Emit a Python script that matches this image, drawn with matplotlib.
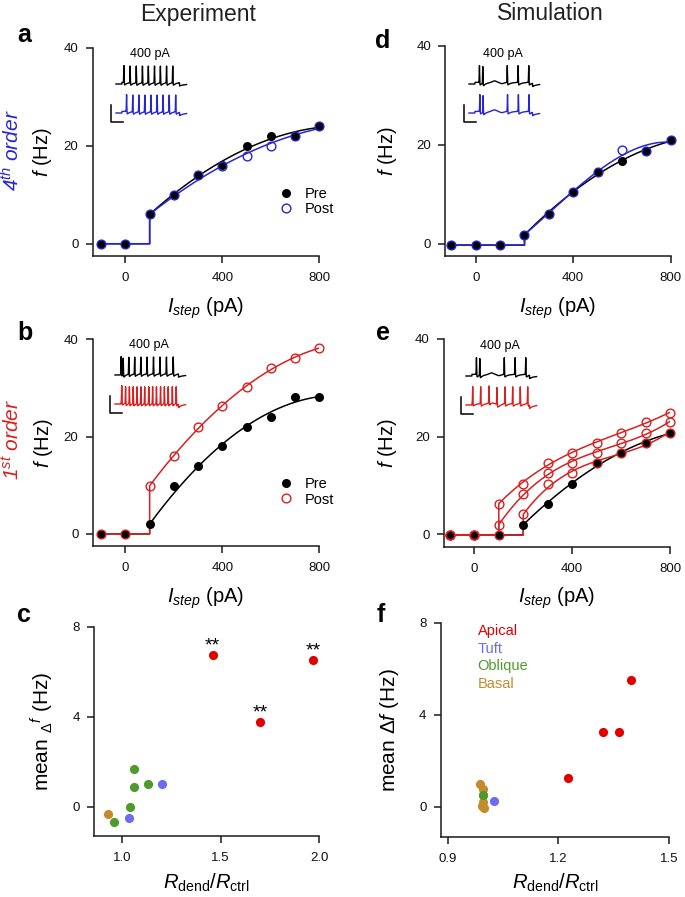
import numpy as np
import matplotlib
matplotlib.use('Agg')
import matplotlib.pyplot as plt
from matplotlib.lines import Line2D

plt.rcParams['font.family'] = ['Liberation Sans', 'DejaVu Sans']
plt.rcParams['mathtext.fontset'] = 'custom'
plt.rcParams['mathtext.rm'] = 'Liberation Sans'
plt.rcParams['mathtext.it'] = 'Liberation Sans:italic'
plt.rcParams['mathtext.bf'] = 'Liberation Sans:bold'

W, H = 685, 897

# ---------------- data ----------------
I_STEP = [-100, 0, 100, 200, 300, 400, 500, 600, 700, 800]

a_pre = [0, 0, 6, 10, 14, 16.1, 20, 22, 22, 24]
a_post = [0, 0, 6, 10, 14, 15.9, 18, 20, 22, 24]

b_pre = [0, 0, 2, 9.9, 14, 18.1, 22, 24, 28.1, 28.1]
b_post = [0, 0, 9.9, 16, 22, 26.2, 30.1, 34.2, 36.2, 38.2]

d_pre = [-0.3, -0.3, -0.3, 1.8, 6.1, 10.4, 14.6, 16.7, 18.8, 20.9]
d_post = [-0.3, -0.3, -0.3, 1.8, 6.1, 10.4, 14.6, 18.9, 18.8, 20.9]

e_pre = [-0.1, -0.1, -0.1, 2.0, 6.2, 10.4, 14.6, 16.6, 18.7, 20.8]
e_post_1 = [-0.1, -0.1, 6.3, 10.4, 14.6, 16.7, 18.7, 20.8, 22.9, 24.9]
e_post_2 = [-0.1, -0.1, 2.0, 8.3, 12.5, 14.6, 16.6, 18.7, 20.8, 22.9]
e_post_3 = [-0.1, -0.1, -0.1, 4.1, 10.4, 12.5, 14.6, 16.6, 18.7, 20.8]

# panel c (experiment)
c_ratio = {
    'Basal': [0.931],
    'Oblique': [0.961, 1.042, 1.059, 1.059, 1.133],
    'Tuft': [1.035, 1.205],
    'Apical': [1.46, 1.70, 1.97],
}
c_delta = {
    'Basal': [-0.34],
    'Oblique': [-0.68, 0.0, 0.87, 1.66, 1.0],
    'Tuft': [-0.50, 0.99],
    'Apical': [6.74, 3.75, 6.5],
}
c_signif = ['**', '**', '**']

# panel f (simulation)
f_ratio = {
    'Basal': [0.988, 0.995, 0.997, 0.996, 0.992, 0.999],
    'Oblique': [0.995],
    'Tuft': [1.025],
    'Apical': [1.225, 1.320, 1.364, 1.397],
}
f_delta = {
    'Basal': [1.0, 0.78, 0.5, 0.2, 0.03, -0.05],
    'Oblique': [0.5],
    'Tuft': [0.24],
    'Apical': [1.25, 3.25, 3.25, 5.5],
}
legend_order = ['Apical', 'Tuft', 'Oblique', 'Basal']

# inset spike times (ms) at 400 pA
a_sp_pre = [135, 240, 345, 450, 550, 655, 755, 860, 965]
a_sp_post = [180, 285, 390, 490, 595, 700, 800, 905, 1015]
b_sp_pre = [105, 140, 235, 335, 440, 545, 655, 765, 875, 990]
b_sp_post = [115, 180, 245, 310, 375, 440, 505, 575, 640, 705, 775, 840, 905, 975, 1040]
d_sp_pre = [178, 235, 651, 835, 1016]
d_sp_post = [185, 240, 655, 840, 1020]
e_sp_pre = [178, 235, 651, 835, 1016]
e_sp_post = [114, 250, 391, 527, 663, 794, 923, 1049]
sim_sub = [430]

# ---------------- style ----------------
BLUE = '#2626d2'
RED = '#d82020'
CAT_COLORS = {'Apical': '#e00000', 'Tuft': '#6c6cf0', 'Oblique': '#4e9a2c', 'Basal': '#c48b2e'}
SPINE = '#1a1a1a'
TICK_FS = 9.5
LABEL_FS = 14.5


def rect(l, r, t, b):
    return [l / W, 1 - b / H, (r - l) / W, (b - t) / H]


fig = plt.figure(figsize=(W / 100, H / 100), dpi=100)


def style_axes(ax):
    for s in ['top', 'right']:
        ax.spines[s].set_visible(False)
    for s in ['left', 'bottom']:
        ax.spines[s].set_linewidth(1.1)
        ax.spines[s].set_color(SPINE)
    ax.tick_params(axis='both', direction='out', length=5.3, width=1.1, color=SPINE,
                   labelsize=TICK_FS, labelcolor='#111111')
    ax.tick_params(axis='x', pad=6.5)
    ax.tick_params(axis='y', pad=5.0)


def fit_line(x, y, deg):
    x = np.asarray(x, float)
    y = np.asarray(y, float)
    on = y > 0.5
    xs, ys = x[on], y[on]
    w = np.ones_like(xs)
    w[0] = 8
    p = np.polyfit(xs, ys, deg, w=w)
    xf = np.linspace(xs[0], xs[-1], 300)
    yf = np.polyval(p, xf)
    base = y[0]
    return np.concatenate([[x[0], xs[0]], xf]), np.concatenate([[base, base], yf])


def fi_panel(ax, pre, posts, color, deg, xmin, xlabel_y, ylabel_x):
    style_axes(ax)
    xl, yl = fit_line(I_STEP, pre, deg)
    ax.plot(xl, yl, color='black', lw=1.1, zorder=2)
    for post in posts:
        xl, yl = fit_line(I_STEP, post, deg)
        ax.plot(xl, yl, color=color, lw=1.1, zorder=3)
    ax.plot(I_STEP, pre, 'o', color='black', ms=6.5, mew=0, zorder=4, clip_on=False)
    for post in posts:
        ax.plot(I_STEP, post, 'o', mfc='none', mec=color, ms=6.3, mew=1.0, zorder=5, clip_on=False)
    ax.set_xlim(xmin, 800)
    ax.set_ylim(-2.5, 40)
    ax.set_xticks([0, 400, 800])
    ax.set_yticks([0, 20, 40])
    ax.set_xlabel(r'$I_{step}$ (pA)', fontsize=LABEL_FS)
    ax.set_ylabel(r'$f$ (Hz)', fontsize=LABEL_FS)
    ax.xaxis.set_label_coords(0.5, xlabel_y)
    ax.yaxis.set_label_coords(ylabel_x, 0.5)


def fi_legend(ax, color):
    h = [Line2D([], [], ls='none', marker='o', color='black', ms=6.5, mew=0),
         Line2D([], [], ls='none', marker='o', mfc='none', mec=color, ms=6.3, mew=1.0)]
    ax.legend(h, ['Pre', 'Post'], loc='center left', bbox_to_anchor=(0.822, 0.262),
              frameon=False, fontsize=10.5, handlelength=1.0, handletextpad=0.8,
              labelspacing=0.1, borderpad=0, borderaxespad=0)


def make_trace(spikes, sub=(), t_on=100, t_off=1080):
    t = np.linspace(0, 1200, 2401)
    v = np.full(t.shape, -70.0)
    on = (t >= t_on) & (t < t_off)
    v[on] += 4
    for ts in spikes:
        d = t - ts
        v += 42 * np.exp(-(d / 5.0) ** 2)
        v -= np.where(d > 0, 8 * np.exp(-np.clip(d, 0, None) / 50.0), 0)
    for ts in sub:
        v += 4 * np.exp(-((t - ts) / 50.0) ** 2)
        v -= 3 * np.exp(-((t - ts - 130) / 50.0) ** 2)
    post = t >= t_off
    v[post] -= 4 * np.exp(-(t[post] - t_off) / 100.0)
    return t, v


def inset(xs_px, cy_px, sp1, sp2, color2, sub=()):
    left = xs_px - 8
    top = cy_px - 10
    ax = fig.add_axes([left / W, 1 - (top + 82) / H, 82 / W, 82 / H])
    ax.set_xlim(-136, 1258)
    ax.set_ylim(-175, 30)
    ax.axis('off')
    t, v = make_trace(sp1, sub)
    ax.plot(t, v, color='black', lw=1.0, clip_on=False)
    t, v = make_trace(sp2, sub)
    ax.plot(t, v - 72.5, color=color2, lw=1.0, clip_on=False)
    ax.plot([-85, -85, 115], [-122.5, -165, -165], color='black', lw=1.1, clip_on=False)
    ax.text(575, 5, '400 pA', ha='center', va='center', fontsize=9)


# ---------------- panels a, b, d, e ----------------
ax_a = fig.add_axes(rect(92.7, 319.3, 47.7, 256))
fi_panel(ax_a, a_pre, [a_post], BLUE, 2, -135, -0.19, -0.17)
fi_legend(ax_a, BLUE)

ax_b = fig.add_axes(rect(92.7, 319.3, 339.3, 546))
fi_panel(ax_b, b_pre, [b_post], RED, 2, -135, -0.19, -0.166)
fi_legend(ax_b, RED)

ax_d = fig.add_axes(rect(445.3, 670.7, 46, 256))
fi_panel(ax_d, d_pre, [d_post], BLUE, 3, -125, -0.188, -0.205)

ax_e = fig.add_axes(rect(444, 670, 338.7, 546.7))
fi_panel(ax_e, e_pre, [e_post_1, e_post_2, e_post_3], RED, 3, -124, -0.188, -0.199)


# ---------------- panels c, f ----------------
def scatter_panel(ax, ratio, delta, xlim, xticks, xlabels, ylabel, xlabel_y, ylabel_x):
    style_axes(ax)
    for cat in ['Basal', 'Oblique', 'Tuft', 'Apical']:
        ax.plot(ratio[cat], delta[cat], 'o', color=CAT_COLORS[cat], ms=6.6, mew=0, clip_on=False)
    ax.set_xlim(*xlim)
    ax.set_ylim(-1.3, 8)
    ax.set_xticks(xticks)
    ax.set_xticklabels(xlabels)
    ax.set_yticks([0, 4, 8])
    ax.set_xlabel(r'$R_{\mathrm{dend}}/R_{\mathrm{ctrl}}$', fontsize=14.5)
    ax.set_ylabel(ylabel, fontsize=15)
    ax.xaxis.set_label_coords(0.5, xlabel_y)
    ax.yaxis.set_label_coords(ylabel_x, 0.5)


ax_c = fig.add_axes(rect(94, 319.3, 626.7, 836))
scatter_panel(ax_c, c_ratio, c_delta, (0.858, 2.0), [1.0, 1.5, 2.0], ['1.0', '1.5', '2.0'],
              r'mean $_{\Delta}{}^{f}$ (Hz)', -0.172, -0.17)
for xv, yv, s in zip(c_ratio['Apical'], c_delta['Apical'], c_signif):
    ax_c.annotate(s, (xv, yv), xytext=(0, 3.5), textcoords='offset points',
                  ha='center', va='baseline', fontsize=14)

ax_f = fig.add_axes(rect(440.7, 669, 622.7, 836.7))
scatter_panel(ax_f, f_ratio, f_delta, (0.881, 1.5), [0.9, 1.2, 1.5], ['0.9', '1.2', '1.5'],
              r'mean $\Delta f$ (Hz)', -0.165, -0.175)
for k, cat in enumerate(legend_order):
    ax_f.text(0.162, 0.961 - 0.0827 * k, cat, color=CAT_COLORS[cat], fontsize=10.5,
              ha='left', va='center', transform=ax_f.transAxes)

# ---------------- insets ----------------
inset(116, 54, a_sp_pre, a_sp_post, BLUE)
inset(115, 345, b_sp_pre, b_sp_post, RED)
inset(469, 54, d_sp_pre, d_sp_post, BLUE, sub=sim_sub)
inset(466, 346, e_sp_pre, e_sp_post, RED, sub=sim_sub)

# ---------------- figure texts ----------------
fig.text(198 / W, 1 - 14 / H, 'Experiment', ha='center', va='center', fontsize=16.5, color='#222222')
fig.text(550 / W, 1 - 14 / H, 'Simulation', ha='center', va='center', fontsize=16.5, color='#222222')

for lab, x, yb in [('a', 17, 42), ('b', 17, 340), ('c', 17, 622),
                   ('d', 375, 48), ('e', 376, 340), ('f', 377, 622)]:
    fig.text(x / W, 1 - yb / H, lab, ha='left', va='baseline', fontsize=18, fontweight='bold')

fig.text(12 / W, 1 - 150 / H, r'4$^{th}$ order', rotation=90, ha='center', va='center',
         fontsize=15, color=BLUE, fontstyle='italic')
fig.text(12 / W, 1 - 440 / H, r'1$^{st}$ order', rotation=90, ha='center', va='center',
         fontsize=15, color=RED, fontstyle='italic')

fig.savefig('out.png', dpi=100)
